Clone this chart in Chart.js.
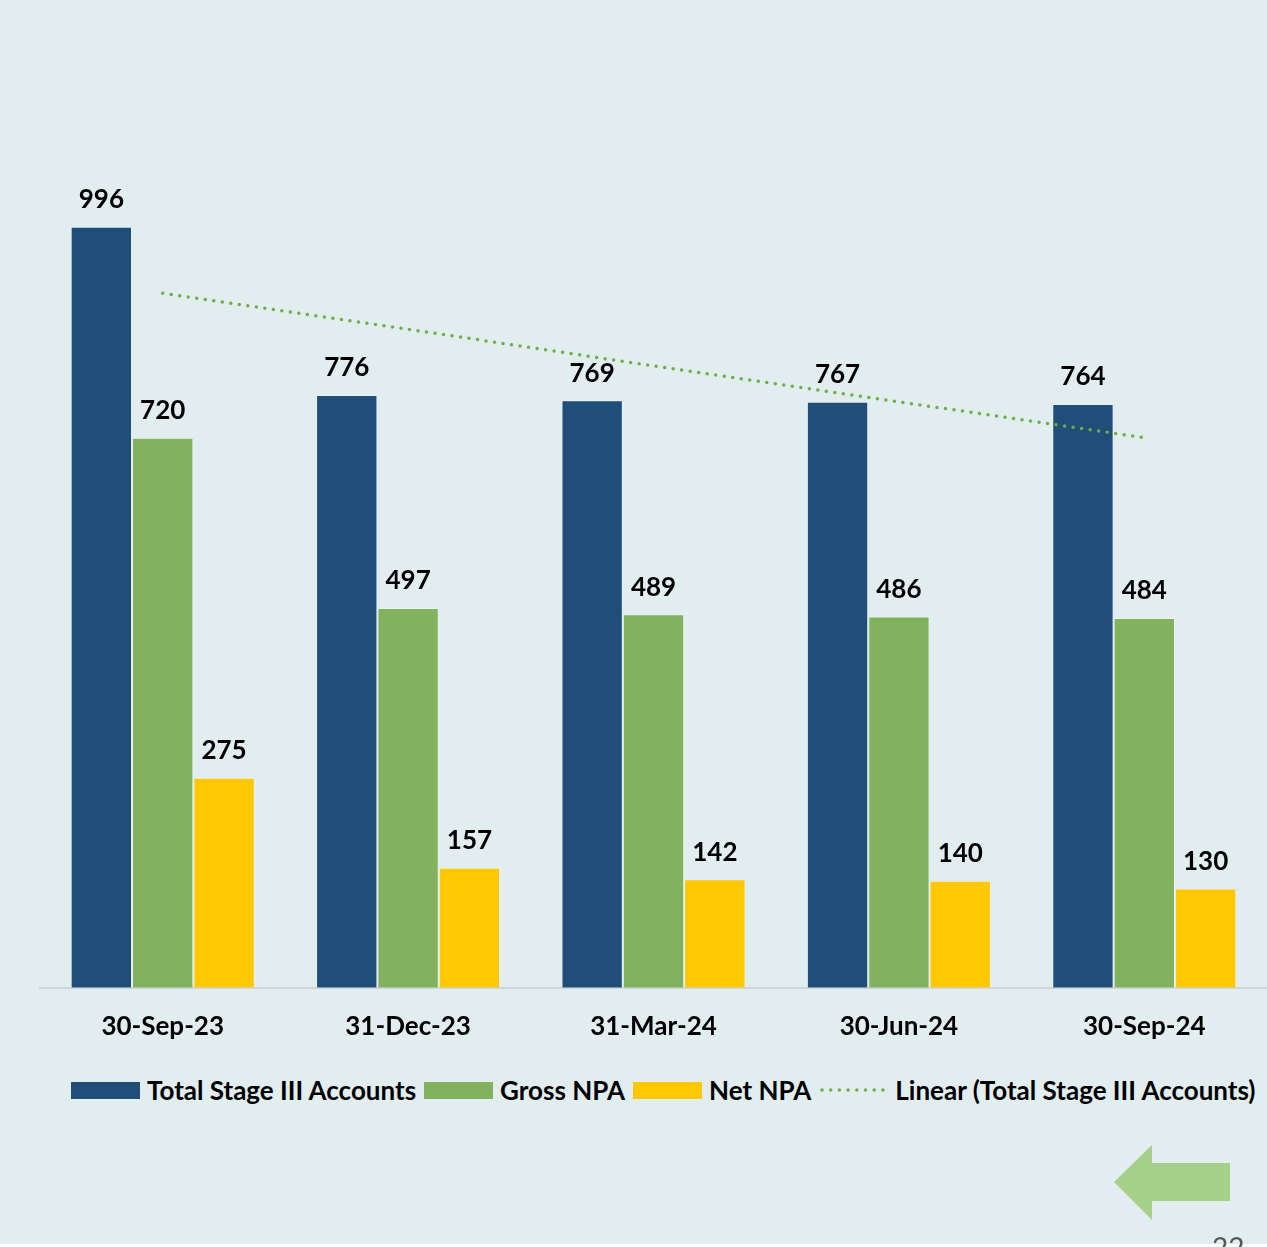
<!DOCTYPE html>
<html>
<head>
<meta charset="utf-8">
<script src="https://cdn.jsdelivr.net/npm/chart.js@4.4.1/dist/chart.umd.min.js"></script>
<style>
 body { margin:0; background:#e1edef; }
 #page { position:relative; width:1267px; height:1247px; background:#e1edef; overflow:hidden; font-family:Lato, 'Open Sans', sans-serif; }
 #wrap { position:absolute; left:0; top:0; width:1267px; height:1070px; }
 #legend { position:absolute; left:71px; top:1074px; display:flex; align-items:center; font-weight:bold; font-size:26px; color:#000; white-space:nowrap; }
 #legend .item { display:flex; align-items:center; margin-right:8px; }
 #legend .box { width:69px; height:17px; margin-right:7px; }
 #legend svg { margin-right:10px; }
 #foot { position:absolute; left:0; top:1244px; width:1267px; height:3px; background:#fff; }
 #pg { position:absolute; left:1212px; top:1230px; font-size:28px; color:#595959; font-family:Lato, sans-serif; }
</style>
</head>
<body>
<div id="page">
 <div id="wrap"><canvas id="myChart"></canvas></div>
 <div id="legend"></div>
 <svg style="position:absolute;left:0;top:0" width="1267" height="1247">
  <polygon points="1114,1182 1152,1145 1152,1163 1230,1163 1230,1201 1152,1201 1152,1220" fill="#a4d08a"/>
 </svg>
 <div id="foot"></div>
 <div id="pg">22</div>
</div>
<script>
//------------------------------ DATA ------------------------------//
const dates = ['30-Sep-23', '31-Dec-23', '31-Mar-24', '30-Jun-24', '30-Sep-24'];
const totalStage3 = [996, 776, 769, 767, 764];
const grossNPA = [720, 497, 489, 486, 484];
const netNPA = [275, 157, 142, 140, 130];
const linearTrend = [909, 862, 814, 767, 720];

//------------------------------ value labels over bars ------------------------------//
const valueLabels = {
  id: 'valueLabels',
  afterDatasetsDraw(chart) {
    const ctx = chart.ctx;
    ctx.save();
    ctx.font = 'bold 26px Lato';
    ctx.fillStyle = '#000';
    ctx.textAlign = 'center';
    ctx.textBaseline = 'middle';
    chart.data.datasets.forEach((ds, i) => {
      if (ds.type === 'line') return;
      chart.getDatasetMeta(i).data.forEach((bar, j) => {
        ctx.fillText(ds.data[j], bar.x, bar.y - 27);
      });
    });
    ctx.restore();
  }
};

const ctx = document.getElementById('myChart').getContext('2d');
const myChart = new Chart(ctx, {
  type: 'bar',
  data: {
    labels: dates,
    datasets: [
      { label: 'Total Stage III Accounts', data: totalStage3, backgroundColor: '#1f4e79', borderColor: 'rgba(255,255,255,0.25)', borderWidth: 1, order: 1 },
      { label: 'Gross NPA', data: grossNPA, backgroundColor: '#82b25e', borderColor: 'rgba(255,255,255,0.25)', borderWidth: 1, order: 1 },
      { label: 'Net NPA', data: netNPA, backgroundColor: '#ffc800', borderColor: 'rgba(255,255,255,0.25)', borderWidth: 1, order: 1 },
      { type: 'line', label: 'Linear (Total Stage III Accounts)', data: linearTrend, borderColor: '#70ad47', borderWidth: 3.5, borderDash: [0, 8.6], borderCapStyle: 'round', pointRadius: 0, fill: false, order: 0 }
    ]
  },
  options: {
    responsive: true,
    maintainAspectRatio: false,
    animation: false,
    layout: { padding: { left: 40, right: 0, top: 71, bottom: 13 } },
    plugins: { legend: { display: false }, tooltip: { enabled: false } },
    datasets: { bar: { categoryPercentage: 0.75, barPercentage: 1.0 } },
    scales: {
      x: {
        grid: { display: false },
        border: { display: true, color: '#d0d5d7', width: 2 },
        ticks: { color: '#000', font: { family: 'Lato', size: 26, weight: 'bold' }, padding: 15 }
      },
      y: { display: false, min: 0, max: 1200 }
    }
  },
  plugins: [valueLabels]
});

//------------------------------ legend ------------------------------//
let legend = document.getElementById('legend');
myChart.data.datasets.forEach((ds) => {
  let item = document.createElement('div');
  item.className = 'item';
  if (ds.type === 'line') {
    item.innerHTML = `<svg width="66" height="10"><line x1="3" y1="5" x2="64" y2="5" stroke="${ds.borderColor}" stroke-width="3.5" stroke-linecap="round" stroke-dasharray="0 8.7"/></svg><span>${ds.label}</span>`;
  } else {
    item.innerHTML = `<div class="box" style="background:${ds.backgroundColor}"></div><span>${ds.label}</span>`;
  }
  legend.appendChild(item);
});
</script>
</body>
</html>
